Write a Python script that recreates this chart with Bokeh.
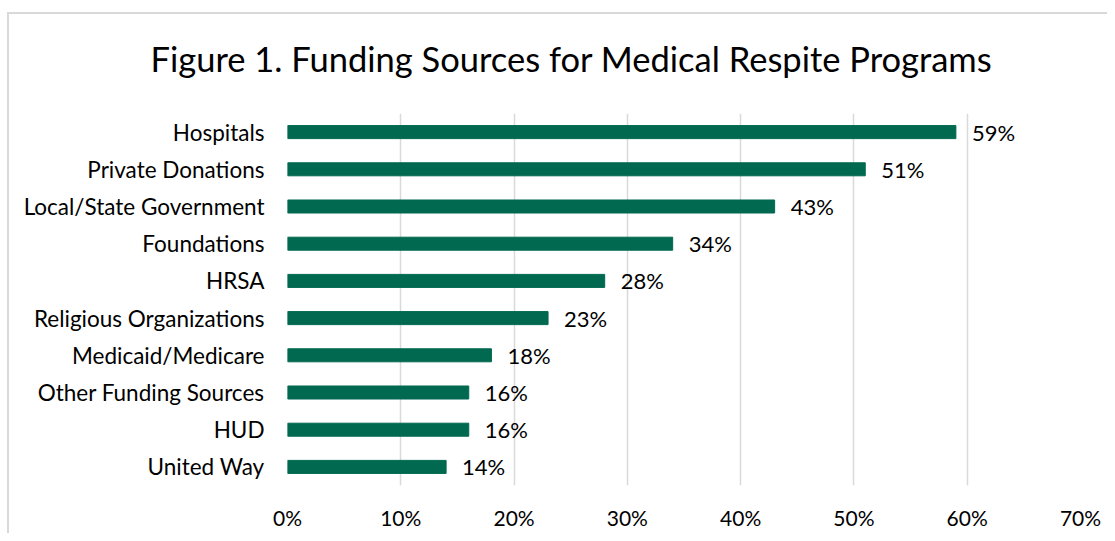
from bokeh.plotting import figure
from bokeh.models import FactorRange, FixedTicker, ColumnDataSource
from bokeh.core.properties import value
from bokeh.embed import file_html
from bokeh.resources import INLINE

categories = ["Hospitals", "Private Donations", "Local/State Government", "Foundations",
              "HRSA", "Religious Organizations", "Medicaid/Medicare",
              "Other Funding Sources", "HUD", "United Way"]
values = [59, 51, 43, 34, 28, 23, 18, 16, 16, 14]
tick_values = [0, 10, 20, 30, 40, 50, 60, 70]
tick_labels = ["0%", "10%", "20%", "30%", "40%", "50%", "60%", "70%"]
value_labels = [f"{v}%" for v in values]
title_text = "Figure 1. Funding Sources for Medical Respite Programs"

FONT = "Lato"
GREEN = "#006950"
BORDER = "#d9d9d9"

src = ColumnDataSource(dict(cat=categories, val=values, lab=value_labels))

p = figure(width=1107, height=533, output_backend="svg", toolbar_location=None,
           y_range=FactorRange(*categories[::-1]), x_range=(0, 70),
           min_border_left=287, min_border_right=27, min_border_top=112, min_border_bottom=48,
           title=title_text)
p.border_fill_color = None
p.background_fill_color = "white"
p.styles = {
    "background-color": "white",
    "background-image": f"linear-gradient({BORDER}, {BORDER}), linear-gradient({BORDER}, {BORDER})",
    "background-size": "2px 100%, 100% 2px",
    "background-position": "7px 12px, 7px 12px",
    "background-repeat": "no-repeat",
}

p.hbar(y="cat", right="val", left=0, height=0.35, color=GREEN, source=src)
p.text(x="val", y="cat", text="lab", source=src, x_offset=16, text_align="left",
       text_baseline="middle", text_font=value(FONT), text_font_size="22px", text_color="#000000")

p.title.align = "left"
p.title.offset = -137
p.title.text_font = FONT
p.title.text_font_size = "34.5px"
p.title.text_font_style = "normal"
p.title.text_color = "#000000"
p.title.vertical_align = "bottom"
p.title.standoff = 70

p.outline_line_color = None
p.ygrid.grid_line_color = None
p.xgrid.grid_line_color = BORDER
p.xgrid.grid_line_width = 1.5
p.xaxis.ticker = FixedTicker(ticks=tick_values)
p.xaxis.major_label_overrides = {v: l for v, l in zip(tick_values, tick_labels)}
for ax in (p.xaxis, p.yaxis):
    ax.axis_line_color = None
    ax.major_tick_line_color = None
    ax.minor_tick_line_color = None
    ax.major_tick_out = 0
    ax.major_tick_in = 0
    ax.major_label_text_font = FONT
    ax.major_label_text_color = "#000000"
p.yaxis.major_label_text_font_size = "22.5px"
p.xaxis.major_label_text_font_size = "21px"
p.yaxis.major_label_standoff = 23
p.xaxis.major_label_standoff = 19
p.y_range.range_padding = 0
p.y_range.factor_padding = 0

open("out.html", "w").write(file_html(p, INLINE))
